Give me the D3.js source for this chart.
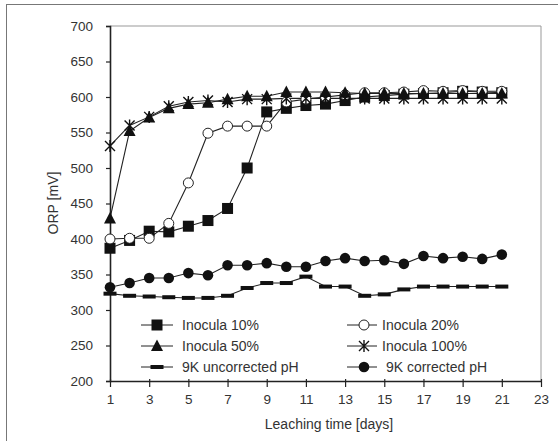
<!DOCTYPE html>
<html>
<head>
<meta charset="utf-8">
<script src="https://cdn.jsdelivr.net/npm/d3@7"></script>
<style>
  body { margin: 0; background: #fff; }
  text { font-family: "Liberation Sans", Arial, sans-serif; fill: #333; }
</style>
</head>
<body>
<svg id="chart" width="558" height="441"></svg>
<script>
// days on the x axis
var days = d3.range(1, 22);

// series values (ORP, mV)
var inocula10 = [387, 398, 411, 410, 418, 426, 443, 500, 579, 584, 588, 590, 595, 600, 602, 604, 605, 606, 608, 607, 606];
var inocula20 = [400, 401, 401, 422, 479, 549, 559, 559, 559, 593, 597, 600, 603, 606, 606, 607, 609, 608, 609, 608, 608];
var inocula50 = [429, 552, 571, 584, 590, 592, 597, 601, 601, 607, 607, 607, 606, 605, 605, 605, 605, 605, 605, 605, 605];
var inocula100 = [531, 560, 572, 587, 593, 595, 593, 597, 597, 598, 598, 598, 598, 598, 598, 598, 598, 598, 598, 598, 598];
var unc9k = [323, 320, 319, 318, 317, 317, 320, 331, 338, 338, 347, 333, 333, 320, 322, 329, 333, 333, 333, 333, 333];
var cor9k = [332, 338, 345, 345, 352, 349, 363, 363, 366, 361, 361, 369, 373, 369, 370, 365, 376, 373, 375, 372, 378];

// tick labels
var xTicks = [1, 3, 5, 7, 9, 11, 13, 15, 17, 19, 21, 23];
var yTicks = [200, 250, 300, 350, 400, 450, 500, 550, 600, 650, 700];

var series = [
  { name: "Inocula 10%", values: inocula10, marker: "square" },
  { name: "Inocula 20%", values: inocula20, marker: "circleOpen" },
  { name: "Inocula 50%", values: inocula50, marker: "triangle" },
  { name: "Inocula 100%", values: inocula100, marker: "star" },
  { name: "9K uncorrected pH", values: unc9k, marker: "dash" },
  { name: " 9K corrected pH", values: cor9k, marker: "circle" }
];

var svg = d3.select("#chart");

// outer frame
svg.append("rect").attr("x", 6.5).attr("y", 4.5).attr("width", 560).attr("height", 450)
  .attr("fill", "none").attr("stroke", "#777").attr("stroke-width", 1);

var plotLeft = 110, plotRight = 541, plotTop = 26, plotBottom = 381;
var x = d3.scaleLinear().domain([1, 23]).range([plotLeft, plotRight]);
var y = d3.scaleLinear().domain([200, 700]).range([plotBottom, plotTop]);

// plot box (top / right sides grey)
svg.append("path")
  .attr("d", `M${plotLeft},${plotTop}H${plotRight}V${plotBottom}`)
  .attr("fill", "none").attr("stroke", "#999").attr("stroke-width", 1);

// y axis
var yAxis = svg.append("g").attr("transform", `translate(${plotLeft},0)`)
  .call(d3.axisLeft(y).tickValues(yTicks).tickSize(4).tickPadding(13));
yAxis.select(".domain").attr("stroke", "#222").attr("stroke-width", 1.6);
yAxis.selectAll(".tick line").attr("stroke", "#222").attr("stroke-width", 1.2);
yAxis.selectAll("text").style("font-size", "13.5px").attr("fill", "#333");

// x axis (ticks crossing the line)
var xAxis = svg.append("g").attr("transform", `translate(0,${plotBottom})`)
  .call(d3.axisBottom(x).tickValues(xTicks).tickSize(6).tickPadding(7).tickSizeOuter(0));
xAxis.select(".domain").attr("stroke", "#222").attr("stroke-width", 1.6);
xAxis.selectAll(".tick line").attr("y1", -2).attr("stroke", "#222").attr("stroke-width", 1.2);
xAxis.selectAll("text").style("font-size", "13.5px").attr("fill", "#333");

// axis titles
svg.append("text").attr("x", 329).attr("y", 429).attr("text-anchor", "middle")
  .style("font-size", "14px").text("Leaching time [days]");
svg.append("text").attr("transform", "translate(58,203) rotate(-90)").attr("text-anchor", "middle")
  .style("font-size", "14px").text("ORP [mV]");

function drawMarker(g, type) {
  if (type === "square") {
    g.append("rect").attr("x", -5.5).attr("y", -5.5).attr("width", 11).attr("height", 11).attr("fill", "#111");
  } else if (type === "circleOpen") {
    g.append("circle").attr("r", 5).attr("fill", "#fff").attr("stroke", "#222").attr("stroke-width", 1);
  } else if (type === "circle") {
    g.append("circle").attr("r", 5.3).attr("fill", "#111");
  } else if (type === "triangle") {
    g.append("path").attr("d", "M0,-6.5L6,5L-6,5Z").attr("fill", "#111");
  } else if (type === "star") {
    g.append("path").attr("d", "M-5,-5L5,5M-5,5L5,-5M0,-6L0,6")
      .attr("stroke", "#111").attr("stroke-width", 1.4).attr("fill", "none");
  } else if (type === "dash") {
    g.append("rect").attr("x", -6.5).attr("y", -2).attr("width", 13).attr("height", 4).attr("fill", "#111");
  }
}

var line = d3.line().x(function (d, i) { return x(days[i]); }).y(function (d) { return y(d); });

series.forEach(function (s) {
  svg.append("path").datum(s.values).attr("d", line)
    .attr("fill", "none").attr("stroke", "#222").attr("stroke-width", 1.1);
});
series.forEach(function (s) {
  s.values.forEach(function (v, i) {
    var g = svg.append("g").attr("transform", `translate(${x(days[i])},${y(v)})`);
    drawMarker(g, s.marker);
  });
});

// legend, 3 rows x 2 columns
var legRows = [325, 346, 367];
var legCols = [{ x1: 141, x2: 173, mx: 157, tx: 182 }, { x1: 347, x2: 377, mx: 364, tx: 382 }];
series.forEach(function (s, i) {
  var c = legCols[i % 2], ry = legRows[Math.floor(i / 2)];
  svg.append("line").attr("x1", c.x1).attr("x2", c.x2).attr("y1", ry).attr("y2", ry)
    .attr("stroke", "#222").attr("stroke-width", 1);
  drawMarker(svg.append("g").attr("transform", `translate(${c.mx},${ry})`), s.marker);
  svg.append("text").attr("x", c.tx).attr("y", ry + 5).style("font-size", "14px")
    .attr("xml:space", "preserve").style("white-space", "pre").text(s.name);
});
</script>
</body>
</html>
